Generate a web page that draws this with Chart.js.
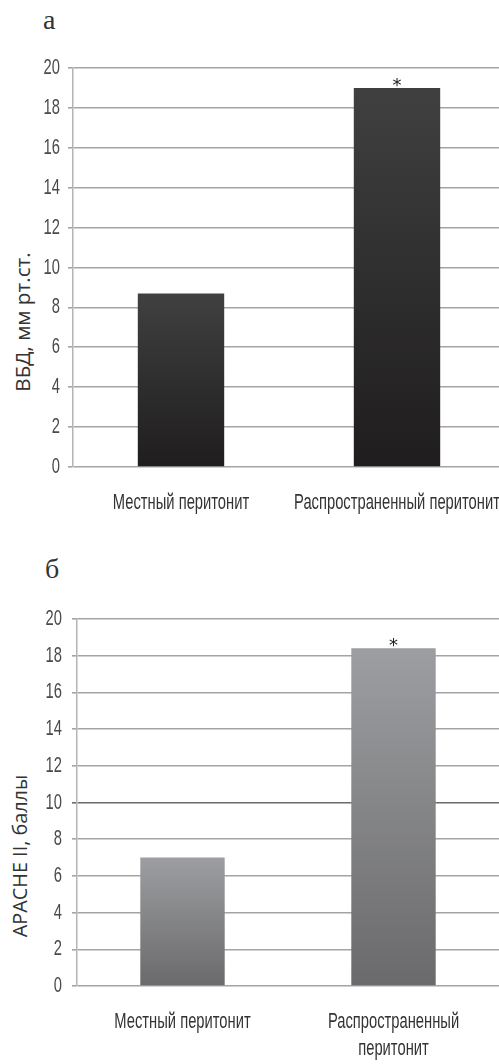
<!DOCTYPE html>
<html><head><meta charset="utf-8">
<script src="https://cdn.jsdelivr.net/npm/chart.js@4/dist/chart.umd.min.js"></script>
<style>
html,body{margin:0;padding:0;background:#fff;width:499px;height:1064px;overflow:hidden;position:relative}
.box{position:absolute;left:0}
.panel{position:absolute;font-family:"Liberation Serif",serif;font-size:28px;color:#333;line-height:1}
.ytitle{position:absolute;font-family:"Open Sans",sans-serif;font-size:18px;color:#333;white-space:nowrap;transform:translate(-50%,-50%) rotate(-90deg);line-height:1}
</style></head>
<body>
<div class="panel" style="left:43px;top:6px">а</div>
<div class="panel" style="left:45px;top:555px">б</div>
<div class="ytitle" id="t1" data-len="139" style="left:22px;top:322px">ВБД, мм рт.ст.</div>
<div class="ytitle" id="t2" data-len="162" style="left:20px;top:856px">APACHE II, баллы</div>
<div class="box" style="top:0;width:505px;height:520px"><canvas id="c1"></canvas></div>
<div class="box" style="top:540px;width:499px;height:524px"><canvas id="c2"></canvas></div>
<script>
const categoriesA = ['Местный перитонит', 'Распространенный перитонит'];
const valuesA = [8.7, 19.0];
const categoriesB = ['Местный перитонит', ['Распространенный', 'перитонит']];
const valuesB = [7.0, 18.4];
const marks = ['', '*'];
const yTicks = [0, 2, 4, 6, 8, 10, 12, 14, 16, 18, 20];

// fit the rotated axis titles to their measured length in the reference
document.querySelectorAll('.ytitle').forEach(el => {
  const target = +el.dataset.len;
  const w = el.getBoundingClientRect().height || el.offsetWidth;
  const base = el.offsetWidth;
  el.style.fontSize = (18 * target / base).toFixed(2) + 'px';
});

// condensed text emulation (narrow font is not installed)
const SQUEEZE = 0.67;
function condense(canvas) {
  const ctx = canvas.getContext('2d');
  const orig = ctx.fillText.bind(ctx);
  ctx._origFillText = orig;
  ctx.fillText = function (t, x, y, mw) {
    this.save();
    this.translate(x, y);
    this.scale(SQUEEZE, 1);
    orig(t, 0, 0);
    this.restore();
  };
  return canvas;
}

const starPlugin = {
  id: 'stars',
  afterDatasetsDraw(chart) {
    const ctx = chart.ctx;
    const meta = chart.getDatasetMeta(0);
    ctx.save();
    ctx.fillStyle = '#222';
    ctx.font = '18px "DejaVu Sans"';
    ctx.textAlign = 'center';
    ctx.textBaseline = 'alphabetic';
    meta.data.forEach((bar, i) => {
      if (marks[i]) (ctx._origFillText || ctx.fillText.bind(ctx))(marks[i], bar.x, bar.y + 3);
    });
    ctx.restore();
  }
};

const FONT = '"Liberation Sans", Arial, sans-serif';

function makeChart(id, labels, values, colTop, colBot, opts) {
  return new Chart(condense(document.getElementById(id)), {
    type: 'bar',
    data: {
      labels: labels,
      datasets: [{
        data: values,
        barPercentage: 1,
        categoryPercentage: 0.4,
        borderWidth: 0,
        backgroundColor: (c) => {
          const ch = c.chart;
          const ys = ch.scales.y;
          if (!ys || c.raw == null) return colTop;
          const top = ys.getPixelForValue(c.raw);
          const bot = ys.getPixelForValue(0);
          if (!isFinite(top) || !isFinite(bot) || top === bot) return colTop;
          const g = ch.ctx.createLinearGradient(0, top, 0, bot);
          g.addColorStop(0, colTop);
          g.addColorStop(1, colBot);
          return g;
        }
      }]
    },
    options: {
      responsive: true,
      maintainAspectRatio: false,
      animation: false,
      events: [],
      layout: { padding: { top: opts.top, left: 0, right: 0, bottom: 0 } },
      plugins: { legend: { display: false }, tooltip: { enabled: false } },
      scales: {
        x: {
          grid: { display: false, drawTicks: false },
          border: { display: false },
          ticks: {
            padding: opts.xpad,
            color: '#333',
            font: { family: FONT, size: 22, lineHeight: 1.23 },
            maxRotation: 0, autoSkip: false
          },
          afterFit(s) { s.height = opts.xh; s.paddingLeft = 0; s.paddingRight = 0; }
        },
        y: {
          min: 0, max: 20,
          afterBuildTicks(s) { s.ticks = yTicks.map(v => ({ value: v })); },
          grid: {
            color: (c) => (opts.dark && c.tick && c.tick.value === 10) ? '#6a6a6a' : '#a4a4a4',
            lineWidth: 1.6,
            tickLength: 5,
            drawTicks: true
          },
          border: { display: true, color: '#b4b4b4', width: 1.5 },
          ticks: {
            padding: opts.ypad,
            color: '#4a4a4a',
            font: { family: FONT, size: 22 }
          },
          afterFit(s) { s.width = opts.yw; s.paddingTop = 0; s.paddingBottom = 0; }
        }
      }
    },
    plugins: [starPlugin]
  });
}

makeChart('c1', categoriesA, valuesA, '#404040', '#1f1d1e', { top: 68, xh: 53, yw: 73, ypad: 8, xpad: 22, dark: false });
makeChart('c2', categoriesB, valuesB, '#9d9ea1', '#6a6a6c', { top: 79, xh: 78, yw: 77, ypad: 10, xpad: 22, dark: true });
</script>
</body></html>
